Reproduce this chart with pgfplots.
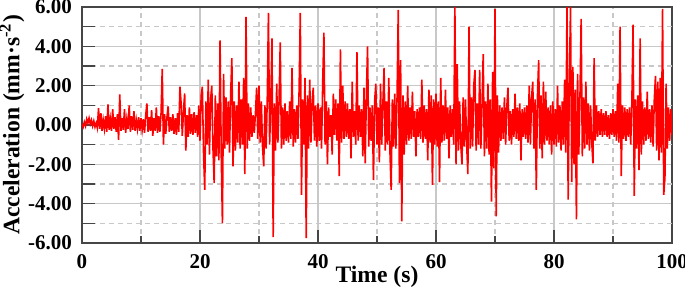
\documentclass[border=0pt]{standalone}
\usepackage{pgfplots}
\pgfplotsset{compat=1.18}
\usetikzlibrary{calc}
\usepackage{fontspec}
\setmainfont{Liberation Serif}
\definecolor{gridc}{RGB}{200,200,200}
\definecolor{axc}{RGB}{70,70,70}
\begin{document}
\begin{tikzpicture}
\begin{axis}[
  scale only axis, width=295pt, height=118pt,
  xmin=0, xmax=100, ymin=-6, ymax=6,
  xtick={0,20,...,100}, xticklabels={0,20,40,60,80,100},
  minor xtick={10,30,...,90},
  ytick={-6,-4,...,6}, yticklabels={-6.00,-4.00,-2.00,0.00,2.00,4.00,6.00},
  extra y ticks={-5,-3,-1,1,3,5}, extra y tick labels={,,,,,},
  extra y tick style={major grid style={draw=gridc, line width=0.6pt, dash pattern=on 2.5pt off 2pt}},
  grid=both,
  major grid style={draw=gridc, line width=0.6pt},
  minor grid style={draw=gridc, line width=0.6pt, dash pattern=on 2.5pt off 2pt},
  tick pos=left, tick align=inside,
  major tick length=6.5pt, minor tick length=3.5pt,
  tick style={draw=axc, line width=0.7pt},
  axis line style={draw=axc, line width=0.7pt},
  tick label style={font=\fontsize{10.5}{12}\selectfont\bfseries},
  xlabel={Time (s)}, ylabel={Acceleration (mm·s\textsuperscript{-2})},
  label style={font=\fontsize{11.8}{14}\selectfont\bfseries},
  xticklabel style={yshift=-2pt},
  yticklabel style={xshift=-1.5pt},
  xlabel style={yshift=8pt},
  ylabel style={yshift=-5pt},
]
\addplot[color=red, line width=0.8pt] coordinates {
(0.0,0.05)(0.2,-0.10)(0.4,0.15)(0.6,-0.05)(0.8,0.30)(1.0,0.10)(1.2,0.35)(1.4,0.05)(1.6,0.25)(1.8,-0.05)(2.0,0.20)(2.2,-0.10)(2.4,0.10)(2.6,-0.15)(2.8,0.85)(3.0,-0.20)(3.2,0.60)(3.4,-0.30)(3.6,0.25)(3.8,-0.20)(4.0,0.45)(4.2,-0.35)(4.4,1.05)(4.6,-0.25)(4.8,0.30)
(5.0,-0.30)(5.2,0.80)(5.4,-0.20)(5.6,0.40)(5.8,-0.35)(6.0,0.55)(6.2,-0.75)(6.4,1.55)(6.6,-0.30)(6.8,0.35)(7.0,-0.25)(7.2,0.80)(7.4,-0.40)(7.6,0.30)(7.8,-0.20)(8.0,1.00)(8.2,-0.35)(8.4,0.45)(8.6,-0.25)(8.8,0.70)(9.0,-0.30)(9.2,0.25)(9.4,-0.20)(9.6,0.40)(9.8,-0.30)
(10.0,0.35)(10.2,-0.25)(10.4,0.30)(10.6,-0.40)(10.8,0.50)(11.0,1.10)(11.2,-0.35)(11.4,0.40)(11.6,-0.30)(11.8,0.75)(12.0,-0.55)(12.2,0.35)(12.4,-0.30)(12.6,0.90)(12.8,-0.40)(13.0,0.45)(13.2,-0.35)(13.4,0.60)(13.6,2.85)(13.8,-1.00)(14.0,0.55)(14.2,-0.45)(14.4,0.40)(14.6,0.95)(14.8,-0.35)
(15.0,0.40)(15.2,-0.30)(15.4,0.55)(15.6,-0.45)(15.8,0.35)(16.0,-0.50)(16.2,0.60)(16.4,-0.35)(16.6,1.95)(16.8,1.10)(17.0,-0.55)(17.2,0.70)(17.4,1.60)(17.6,-1.30)(17.8,0.50)(18.0,-0.60)(18.2,0.90)(18.4,-0.45)(18.6,0.55)(18.8,-0.50)(19.0,0.65)(19.2,-0.40)(19.4,0.50)(19.6,-0.60)(19.8,1.00)
(20.0,-0.80)(20.2,1.50)(20.4,1.95)(20.6,-1.40)(20.8,-3.30)(21.0,1.20)(21.2,-1.00)(21.4,2.30)(21.6,-1.50)(21.8,1.30)(22.0,2.00)(22.2,-1.20)(22.4,-2.95)(22.6,1.50)(22.8,-1.60)(23.0,1.10)(23.2,-1.80)(23.4,4.30)(23.6,-1.50)(23.8,-5.00)(24.0,2.60)(24.2,-1.20)(24.4,1.40)(24.6,-1.00)(24.8,1.20)
(25.0,-1.40)(25.2,1.60)(25.4,3.40)(25.6,-2.10)(25.8,1.20)(26.0,-1.30)(26.2,1.00)(26.4,-0.90)(26.6,2.20)(26.8,-1.20)(27.0,1.30)(27.2,-1.00)(27.4,2.40)(27.6,-2.50)(27.8,5.50)(28.0,-1.20)(28.2,1.10)(28.4,-0.80)(28.6,0.90)(28.8,-0.60)(29.0,0.50)(29.2,-0.40)(29.4,0.60)(29.6,1.90)(29.8,-0.70)
(30.0,2.00)(30.2,-0.90)(30.4,1.20)(30.6,-1.10)(30.8,-2.10)(31.0,1.00)(31.2,-1.20)(31.4,1.30)(31.6,5.70)(31.8,-1.00)(32.0,1.20)(32.2,4.40)(32.4,-5.70)(32.6,1.10)(32.8,-1.30)(33.0,2.10)(33.2,-0.90)(33.4,1.20)(33.6,4.20)(33.8,-1.20)(34.0,0.90)(34.2,-1.00)(34.4,1.10)(34.6,-0.80)(34.8,0.70)
(35.0,-0.90)(35.2,1.20)(35.4,-0.70)(35.6,2.90)(35.8,-1.10)(36.0,0.80)(36.2,-0.90)(36.4,1.00)(36.6,-0.70)(36.8,1.80)(37.0,5.70)(37.2,-3.55)(37.4,1.30)(37.6,-1.00)(37.8,2.40)(38.0,-5.75)(38.2,1.50)(38.4,-1.20)(38.6,2.30)(38.8,-0.90)(39.0,1.20)(39.2,1.90)(39.4,-0.80)(39.6,1.00)(39.8,-1.10)
(40.0,1.10)(40.2,-0.80)(40.4,0.90)(40.6,-1.20)(40.8,2.20)(41.0,4.70)(41.2,-1.00)(41.4,1.20)(41.6,-2.00)(41.8,0.90)(42.0,-0.60)(42.2,0.50)(42.4,-1.50)(42.6,1.60)(42.8,-0.50)(43.0,1.30)(43.2,-0.80)(43.4,1.10)(43.6,-2.60)(43.8,3.85)(44.0,-0.90)(44.2,2.00)(44.4,-0.70)(44.6,1.20)(44.8,-0.60)
(45.0,1.10)(45.2,-0.70)(45.4,0.80)(45.6,-1.70)(45.8,2.20)(46.0,-0.60)(46.2,0.70)(46.4,-1.00)(46.6,3.70)(46.8,-0.80)(47.0,1.00)(47.2,-0.60)(47.4,0.80)(47.6,-1.60)(47.8,1.90)(48.0,-1.95)(48.2,1.50)(48.4,4.00)(48.6,-1.10)(48.8,0.90)(49.0,-0.80)(49.2,1.00)(49.4,-2.80)(49.6,1.20)(49.8,2.10)
(50.0,-1.00)(50.2,0.90)(50.4,-1.90)(50.6,2.10)(50.8,-1.00)(51.0,1.10)(51.2,2.90)(51.4,-1.30)(51.6,1.20)(51.8,-1.00)(52.0,2.40)(52.2,-1.40)(52.4,-3.30)(52.6,1.30)(52.8,-1.10)(53.0,1.60)(53.2,-1.20)(53.4,1.40)(53.6,5.85)(53.8,-2.95)(54.0,3.30)(54.2,-4.90)(54.4,1.50)(54.6,-1.50)(54.8,1.20)
(55.0,-1.00)(55.2,2.00)(55.4,-0.80)(55.6,0.90)(55.8,-0.70)(56.0,1.70)(56.2,-0.60)(56.4,0.70)(56.6,-1.60)(56.8,0.80)(57.0,-0.60)(57.2,0.90)(57.4,-0.70)(57.6,2.30)(57.8,-0.90)(58.0,1.00)(58.2,-0.70)(58.4,0.80)(58.6,-1.80)(58.8,1.80)(59.0,-0.90)(59.2,1.50)(59.4,-3.05)(59.6,1.30)(59.8,-1.00)
(60.0,1.60)(60.2,-1.10)(60.4,1.20)(60.6,-2.90)(60.8,2.40)(61.0,-0.90)(61.2,1.00)(61.4,-0.80)(61.6,1.80)(61.8,-0.70)(62.0,0.90)(62.2,-1.70)(62.4,1.00)(62.6,-0.60)(62.8,0.80)(63.0,-1.00)(63.2,6.00)(63.4,-2.00)(63.6,3.10)(63.8,-1.30)(64.0,1.20)(64.2,-1.00)(64.4,-2.00)(64.6,1.40)(64.8,-1.10)
(65.0,1.30)(65.2,-1.00)(65.4,-2.50)(65.6,5.00)(65.8,-1.20)(66.0,1.40)(66.2,-1.10)(66.4,2.00)(66.6,2.80)(66.8,-1.30)(67.0,1.10)(67.2,-1.00)(67.4,2.80)(67.6,-1.20)(67.8,1.00)(68.0,3.60)(68.2,-1.60)(68.4,1.20)(68.6,-1.20)(68.8,2.10)(69.0,-1.50)(69.2,1.30)(69.4,-3.90)(69.6,2.70)(69.8,-2.20)
(70.0,5.90)(70.2,-4.65)(70.4,1.50)(70.6,-1.40)(70.8,1.00)(71.0,-0.80)(71.2,0.90)(71.4,-0.70)(71.6,1.40)(71.8,-1.00)(72.0,0.90)(72.2,1.90)(72.4,-0.80)(72.6,0.70)(72.8,-1.00)(73.0,0.80)(73.2,-0.60)(73.4,1.60)(73.6,-0.70)(73.8,0.90)(74.0,-0.80)(74.2,1.10)(74.4,-1.80)(74.6,0.80)(74.8,-0.60)
(75.0,0.90)(75.2,-0.70)(75.4,1.00)(75.6,-0.90)(75.8,2.00)(76.0,-1.00)(76.2,1.40)(76.4,2.20)(76.6,-1.20)(76.8,1.30)(77.0,-3.30)(77.2,1.50)(77.4,3.30)(77.6,-1.20)(77.8,1.50)(78.0,-1.70)(78.2,2.20)(78.4,-1.00)(78.6,1.70)(78.8,-0.80)(79.0,0.90)(79.2,-1.00)(79.4,1.00)(79.6,-1.50)(79.8,1.20)
(80.0,-1.00)(80.2,0.80)(80.4,-1.10)(80.6,2.00)(80.8,-0.90)(81.0,1.00)(81.2,-1.30)(81.4,1.20)(81.6,-1.00)(81.8,2.30)(82.0,-1.40)(82.2,6.00)(82.4,-3.80)(82.6,2.20)(82.8,6.00)(83.0,-2.90)(83.2,2.95)(83.4,-2.00)(83.6,1.80)(83.8,-4.80)(84.0,2.60)(84.2,-1.50)(84.4,1.40)(84.6,5.40)(84.8,-1.60)
(85.0,1.40)(85.2,-1.20)(85.4,2.20)(85.6,-1.00)(85.8,1.10)(86.0,-1.30)(86.2,1.00)(86.4,-0.90)(86.6,-1.95)(86.8,3.40)(87.0,-0.80)(87.2,1.00)(87.4,-0.60)(87.6,0.70)(87.8,-0.50)(88.0,0.80)(88.2,-0.60)(88.4,0.60)(88.6,-0.50)(88.8,0.70)(89.0,-0.60)(89.2,0.50)(89.4,-0.70)(89.6,0.60)(89.8,-0.50)
(90.0,0.80)(90.2,-0.60)(90.4,0.70)(90.6,-0.80)(90.8,2.10)(91.0,-0.90)(91.2,5.00)(91.4,-2.60)(91.6,1.00)(91.8,-0.70)(92.0,0.90)(92.2,-0.80)(92.4,0.80)(92.6,-0.60)(92.8,0.90)(93.0,-1.00)(93.2,1.20)(93.4,5.10)(93.6,-3.60)(93.8,1.30)(94.0,-1.20)(94.2,1.50)(94.4,-2.30)(94.6,4.40)(94.8,-1.50)
(95.0,1.20)(95.2,-1.00)(95.4,0.90)(95.6,-0.80)(95.8,1.70)(96.0,-0.70)(96.2,0.80)(96.4,-0.90)(96.6,1.00)(96.8,-1.10)(97.0,1.30)(97.2,2.50)(97.4,-1.30)(97.6,2.20)(97.8,-1.80)(98.0,2.40)(98.2,-1.40)(98.4,5.90)(98.6,-3.55)(98.8,-2.70)(99.0,2.10)(99.2,-1.20)(99.4,0.90)(99.6,-0.80)(99.8,0.80)(100.0,-0.50)
};
\end{axis}
\pgfresetboundingbox
\path ($(current axis.south west)+(-41pt,-23.5pt)$) rectangle ($(current axis.north east)+(6.5pt,3.5pt)$);
\end{tikzpicture}
\end{document}
